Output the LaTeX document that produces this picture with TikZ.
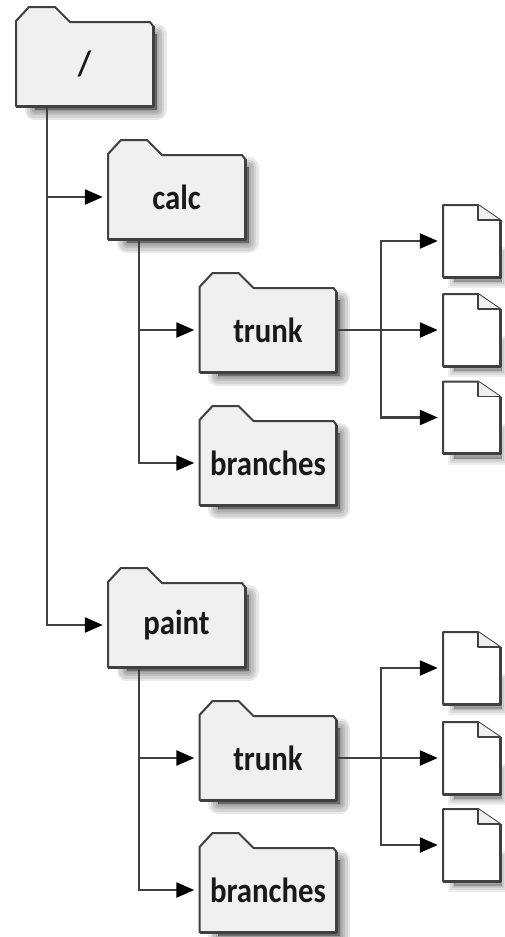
\documentclass[tikz,border=0pt]{standalone}
\usepackage{fontspec}
\setmainfont[FakeStretch=0.88]{Carlito}
\usetikzlibrary{arrows.meta}

\newcommand{\folderbox}[4]{
 	\foreach \w in {20,15,10,5,1}
 		\draw [black, line width=\w pt, line join=round, draw opacity=0.09, fill opacity=0.09, fill=black] (#2-50,#3-30) rectangle (#2+72,#3+46);
 	\draw [frame, fill=paper] (#2-68.5,#3-43) -- (#2-55.5,#3-57) -- (#2-29.5,#3-57) -- (#2-14.5,#3-42) -- (#2+65.5,#3-42) -- (#2+68.5,#3-38) -- (#2+68.5,#3+42) -- (#2-68.5,#3+42) -- cycle;
 	\draw [frame, line width=3pt] (#2+68.5,#3-38) -- (#2+68.5,#3+42) -- (#2-68.5,#3+42);
 	\node [font=\bfseries\fontsize{35}{35}\selectfont, minimum width=137pt, minimum height=84pt] (#1) at (#2,#3) {\raisebox{-1.5pt}{#4}};
}
\newcommand{\filebox}[3]{
 	\foreach \w in {12,8,4,1}
 		\draw [black, line width=\w pt, draw opacity=0.07, fill opacity=0.07, fill=black] (#2-18,#3+12) rectangle (#2+30,#3+41);
 	\draw [frame, fill=white] (#2-28.5,#3-36) -- (#2+6.5,#3-36) -- (#2+28.5,#3-21) -- (#2+28.5,#3+36) -- (#2-28.5,#3+36) -- cycle;
 	\draw [frame, line width=1.4pt, fill=paper] (#2+6.5,#3-36) -- (#2+6.5,#3-21) -- (#2+28.5,#3-21);
 	\draw [frame, line width=3pt] (#2+28.5,#3-21) -- (#2+28.5,#3+36) -- (#2-28.5,#3+36);
 	\node [minimum width=57pt, minimum height=72pt] (#1) at (#2,#3) {};
}

\begin{document}
\begin{tikzpicture}[x=1pt,y=-1pt]
 	\tikzstyle{every node}+=[inner sep=0pt, text=black!90]
 	\tikzstyle{frame}=[draw=ink, line width=2pt, line join=round]
 	\tikzstyle{link}=[draw=ink, line width=2.4pt, shorten >=5pt, -{Triangle[length=18pt,width=15pt,color=black]}]
 	\colorlet{ink}{black!75}
 	\colorlet{paper}{black!6}
 	\useasboundingbox (0,0) rectangle (504,937);
 	\fill [white] (0,0) rectangle (504,937);
 	% folders
 	\folderbox{root}{84.5}{64}{/}
 	\folderbox{calc}{176.5}{197}{calc}
 	\folderbox{calctrunk}{268}{330}{trunk}
 	\folderbox{calcbranches}{268}{463}{branches}
 	\folderbox{paint}{176.5}{625}{paint}
 	\folderbox{painttrunk}{268}{758}{trunk}
 	\folderbox{paintbranches}{268}{890}{branches}
 	% files
 	\filebox{calcfilea}{471.5}{241}
 	\filebox{calcfileb}{471.5}{330}
 	\filebox{calcfilec}{471.5}{417.5}
 	\filebox{paintfilea}{471.5}{668}
 	\filebox{paintfileb}{471.5}{758}
 	\filebox{paintfilec}{471.5}{845}
 	% stems
 	\coordinate (rootstem) at (47,106);
 	\coordinate (calcstem) at (139,239);
 	\coordinate (paintstem) at (139,667);
 	\coordinate (calcfork) at (381,330);
 	\coordinate (paintfork) at (381,758);
 	% links
 	\draw [link] (rootstem) |- (calc.west);
 	\draw [link] (rootstem) |- (paint.west);
 	\draw [link] (calcstem) |- (calctrunk.west);
 	\draw [link] (calcstem) |- (calcbranches.west);
 	\draw [link] (paintstem) |- (painttrunk.west);
 	\draw [link] (paintstem) |- (paintbranches.west);
 	\draw [link] (calctrunk.east) -- (calcfileb.west);
 	\draw [link] (calcfork) |- (calcfilea.west);
 	\draw [link] (calcfork) |- (calcfilec.west);
 	\draw [link] (painttrunk.east) -- (paintfileb.west);
 	\draw [link] (paintfork) |- (paintfilea.west);
 	\draw [link] (paintfork) |- (paintfilec.west);
\end{tikzpicture}
\end{document}
